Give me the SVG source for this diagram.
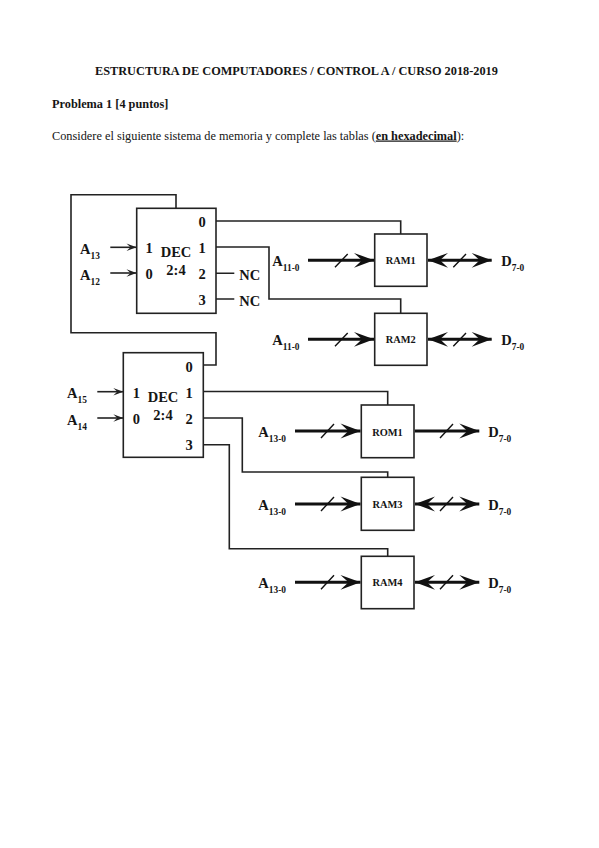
<svg xmlns="http://www.w3.org/2000/svg" width="599" height="848" viewBox="0 0 599 848">
<style>
text{font-family:"Liberation Serif","Times New Roman",serif;fill:#151515;font-weight:bold}
.plain{font-weight:normal}
.t{font-size:12.3px}
.b{fill:#fff;stroke:#222;stroke-width:1.6}
.w{fill:none;stroke:#222;stroke-width:1.6}
.bus{fill:none;stroke:#111;stroke-width:3}
.sl{fill:none;stroke:#111;stroke-width:1.4}
.sm{fill:none;stroke:#222;stroke-width:1.6}
.l{font-size:14.5px}
.s{font-size:9.4px}
.d{font-size:14.5px;text-anchor:middle}
.r{font-size:10.4px;text-anchor:middle}
</style>
<defs>
<marker id="h" markerUnits="userSpaceOnUse" markerWidth="24" markerHeight="20" refX="22" refY="10" orient="auto-start-reverse" overflow="visible"><path d="M2 2.6L22 10L2 17.4L10 10Z" fill="#111"/></marker>
<marker id="m" markerUnits="userSpaceOnUse" markerWidth="12" markerHeight="10" refX="11" refY="5" orient="auto" overflow="visible"><path d="M1 1.2L11 5L1 8.8L5 5Z" fill="#222"/></marker>
</defs>
<g id="heading">
<text class="t" x="95" y="75">ESTRUCTURA DE COMPUTADORES / CONTROL A / CURSO 2018-2019</text>
<text class="t" x="52" y="107.5">Problema 1 [4 puntos]</text>
<text class="t plain" x="52" y="139.5">Considere el siguiente sistema de memoria y complete las tablas (<tspan font-weight="bold" text-decoration="underline">en hexadecimal</tspan>):</text>
</g>
<g id="connectors">
<path class="w" d="M176 208.3V194.7H71V332.7H216V365H203.3"/>
<path class="w" d="M216 221H400.7V234"/>
<path class="w" d="M216 247H269V299H400.7V313.3"/>
<path class="w" d="M216 273.3H234.3M216 299H234.3"/>
<path class="w" d="M203.3 391.5H387.7V405"/>
<path class="w" d="M203.3 418H242.3V472H387.7V477.3"/>
<path class="w" d="M203.3 444.7H229.3V548.7H387.7V556.3"/>
<path class="sm" marker-end="url(#m)" d="M110.3 247.3H136.5"/>
<path class="sm" marker-end="url(#m)" d="M110.3 273H136.5"/>
<path class="sm" marker-end="url(#m)" d="M97.3 391.7H123.3"/>
<path class="sm" marker-end="url(#m)" d="M97.3 418H123.3"/>
<path class="bus" marker-end="url(#h)" d="M308 260.3H374"/>
<path class="bus" marker-end="url(#h)" d="M308 339.3H374"/>
<path class="bus" marker-end="url(#h)" d="M295 431H360.5"/>
<path class="bus" marker-end="url(#h)" d="M295 504H360.5"/>
<path class="bus" marker-end="url(#h)" d="M295 582.3H360.5"/>
<path class="bus" marker-start="url(#h)" marker-end="url(#h)" d="M428 260.3H491.7"/>
<path class="bus" marker-start="url(#h)" marker-end="url(#h)" d="M428 339.3H491.7"/>
<path class="bus" marker-end="url(#h)" d="M414.7 431H479.3"/>
<path class="bus" marker-start="url(#h)" marker-end="url(#h)" d="M415 504H479.3"/>
<path class="bus" marker-start="url(#h)" marker-end="url(#h)" d="M415 582.3H479.3"/>
<path class="sl" d="M335 267.3L347.7 254M335 346.3L347.7 333M321 438L334 424M321 511L334 497M321 589.3L334 575.3M453.3 267.3L466 254M453.3 346.3L466 333M440 438L453 424M440 511L453 497M440 589.3L453 575.3"/>
</g>
<g id="dec1">
<rect class="b" x="136.7" y="208.3" width="79.3" height="105"/>
<text class="d" x="149" y="253">1</text><text class="d" x="149" y="279">0</text>
<text class="d" x="176" y="257">DEC</text><text class="d" x="176" y="275">2:4</text>
<text class="d" x="202" y="226.5">0</text><text class="d" x="202" y="252.5">1</text><text class="d" x="202" y="278.5">2</text><text class="d" x="202" y="304.5">3</text>
</g>
<g id="dec2">
<rect class="b" x="123.3" y="352.7" width="80" height="104.6"/>
<text class="d" x="136.3" y="398">1</text><text class="d" x="136.3" y="424">0</text>
<text class="d" x="163" y="402">DEC</text><text class="d" x="163" y="420">2:4</text>
<text class="d" x="189" y="371.7">0</text><text class="d" x="189" y="398">1</text><text class="d" x="189" y="424">2</text><text class="d" x="189" y="450">3</text>
</g>
<g id="ram1"><rect class="b" x="374.7" y="234" width="52.3" height="52.3"/><text class="r" x="400.7" y="264">RAM1</text></g>
<g id="ram2"><rect class="b" x="374.7" y="313.3" width="52.3" height="52"/><text class="r" x="400.7" y="343">RAM2</text></g>
<g id="rom1"><rect class="b" x="361.3" y="405" width="52.7" height="52.7"/><text class="r" x="387.5" y="435.5">ROM1</text></g>
<g id="ram3"><rect class="b" x="361.3" y="477.3" width="52.7" height="53"/><text class="r" x="387.5" y="507.7">RAM3</text></g>
<g id="ram4"><rect class="b" x="361.3" y="556.3" width="52.7" height="52.4"/><text class="r" x="387.5" y="586">RAM4</text></g>
<g id="labels">
<text class="l" x="80" y="254">A<tspan class="s" dy="5">13</tspan></text>
<text class="l" x="80" y="280">A<tspan class="s" dy="5">12</tspan></text>
<text class="l" x="67" y="398">A<tspan class="s" dy="5">15</tspan></text>
<text class="l" x="67" y="425">A<tspan class="s" dy="5">14</tspan></text>
<text class="l" x="239.3" y="279.5">NC</text>
<text class="l" x="239.3" y="305.5">NC</text>
<text class="l" x="272.3" y="266">A<tspan class="s" dy="5">11-0</tspan></text>
<text class="l" x="272.3" y="345">A<tspan class="s" dy="5">11-0</tspan></text>
<text class="l" x="258.3" y="437">A<tspan class="s" dy="5">13-0</tspan></text>
<text class="l" x="258.3" y="510">A<tspan class="s" dy="5">13-0</tspan></text>
<text class="l" x="258.3" y="588">A<tspan class="s" dy="5">13-0</tspan></text>
<text class="l" x="501.3" y="266">D<tspan class="s" dy="5">7-0</tspan></text>
<text class="l" x="501.3" y="345">D<tspan class="s" dy="5">7-0</tspan></text>
<text class="l" x="488.3" y="437">D<tspan class="s" dy="5">7-0</tspan></text>
<text class="l" x="488.3" y="510">D<tspan class="s" dy="5">7-0</tspan></text>
<text class="l" x="488.3" y="588">D<tspan class="s" dy="5">7-0</tspan></text>
</g>
</svg>
